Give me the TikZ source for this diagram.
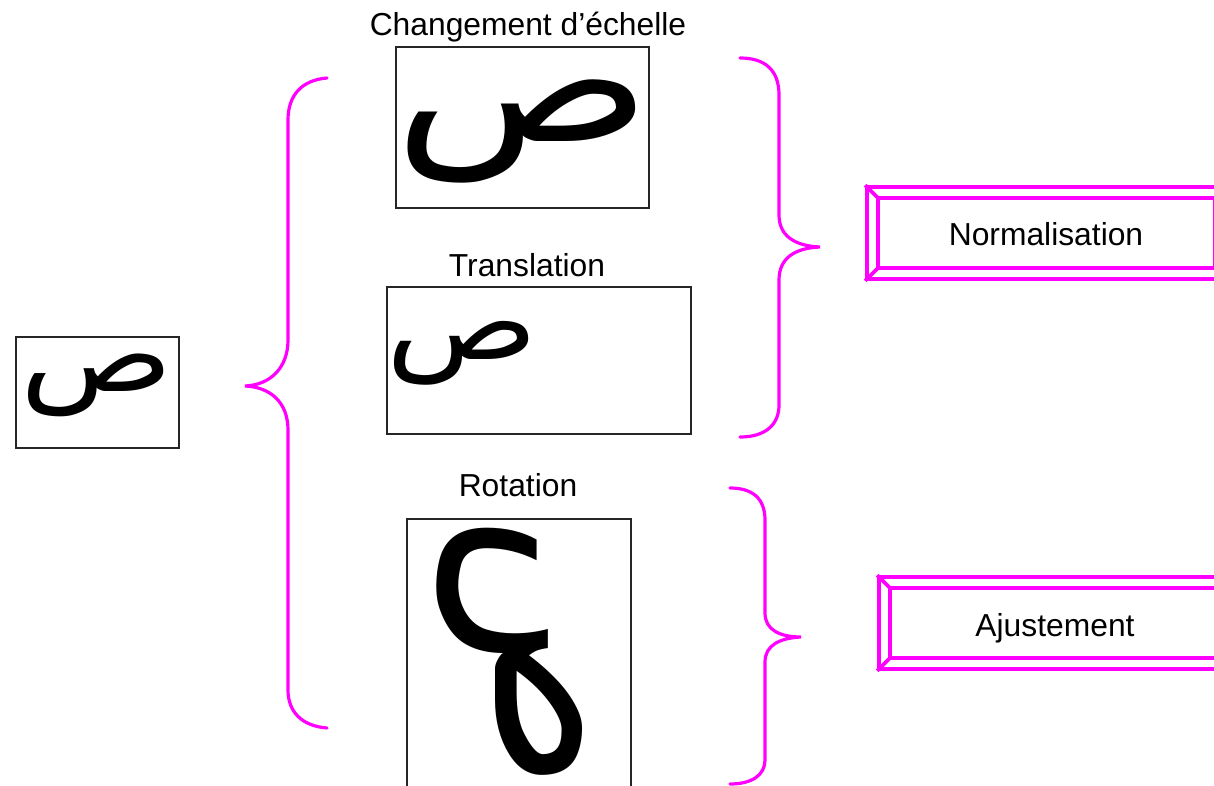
\documentclass[tikz,border=0pt]{standalone}
\usepackage{fontspec}
\setmainfont{Liberation Sans}
\newfontfamily\arabicfont[Script=Arabic]{DejaVu Sans}
\TeXXeTstate=1
\definecolor{mag}{RGB}{255,0,255}
\newcommand\sadglyph{{\arabicfont\beginR ص\endR}}
\begin{document}
\begin{tikzpicture}[x=1pt,y=-1pt,
  lbl/.style={inner sep=0pt,font=\fontsize{31.8}{36}\selectfont},
  imgbox/.style={draw=black!85,line width=1.6pt,inner sep=0pt,anchor=north west},
  glyph/.style={inner sep=0pt,anchor=north west},
  bracestyle/.style={draw=mag,line width=3.2pt,line cap=round},
  bevel/.style={draw=mag,line width=3.6pt,inner sep=0pt},
  bevelin/.style={draw=mag,line width=3.6pt}]
\useasboundingbox (0,0) rectangle (1214,786);
\fill[white] (0,0) rectangle (1214,786);

% original
\node[imgbox,minimum width=163pt,minimum height=111pt] (orig) at (15,336) {};
\node[glyph] (origg) at (20.4,354.1) {\resizebox{152.5pt}{37.6pt}{\sadglyph}};

% scaling
\node[imgbox,minimum width=253pt,minimum height=161pt] (scale) at (395,46) {};
\node[glyph] (scaleg) at (394,79.9) {\resizebox{256.4pt}{61.8pt}{\sadglyph}};
\node[lbl,anchor=base] (scalel) at (528,36) {Changement d’échelle};

% translation
\node[imgbox,minimum width=304pt,minimum height=147pt] (trans) at (386,286) {};
\node[glyph] (transg) at (386.5,321.1) {\resizebox{151.4pt}{38.2pt}{\sadglyph}};
\node[lbl,anchor=base] (transl) at (527,276) {Translation};

% rotation
\node[imgbox,minimum width=224pt,minimum height=290pt] (rot) at (406,518) {};
\node[glyph] (rotg) at (437,513) {\rotatebox{-90}{\resizebox{278.5pt}{87pt}{\sadglyph}}};
\node[lbl,anchor=base] (rotl) at (518,496) {Rotation};

% braces
\draw[bracestyle] (327,78) .. controls (302,80) and (288,95) .. (288,120) -- (288,340)
  .. controls (288,368) and (270,385) .. (245,386)
  .. controls (270,387) and (288,402) .. (288,430) -- (288,690)
  .. controls (288,712) and (302,726) .. (327,728);
\draw[bracestyle] (740,58) .. controls (765,58) and (779,70) .. (779,95) -- (779,215)
  .. controls (779,236) and (795,246) .. (820,247)
  .. controls (795,248) and (779,258) .. (779,280) -- (779,405)
  .. controls (779,425) and (765,437) .. (740,437);
\draw[bracestyle] (730,488) .. controls (752,488) and (765,498) .. (765,520) -- (765,613)
  .. controls (765,630) and (780,637) .. (801,637)
  .. controls (780,638) and (765,645) .. (765,662) -- (765,760)
  .. controls (765,775) and (752,784) .. (730,784);

% bevelled boxes
\node[bevel,minimum width=359pt,minimum height=92pt] (norm) at (1046.5,233) {};
\node[bevel,minimum width=352pt,minimum height=92pt] (ajust) at (1055,623) {};
\node[lbl,anchor=base] (normt) at (1046,246) {Normalisation};
\node[lbl,anchor=base] (ajustt) at (1055,636) {Ajustement};
\foreach \n in {norm,ajust}{
  \draw[bevelin] ([shift={(13,13)}]\n.north west) rectangle ([shift={(-13,-13)}]\n.south east);
  \draw[bevelin] (\n.north west) -- ([shift={(13,13)}]\n.north west);
  \draw[bevelin] (\n.south west) -- ([shift={(13,-13)}]\n.south west);
  \draw[bevelin] (\n.north east) -- ([shift={(-13,13)}]\n.north east);
  \draw[bevelin] (\n.south east) -- ([shift={(-13,-13)}]\n.south east);
}
\end{tikzpicture}
\end{document}
